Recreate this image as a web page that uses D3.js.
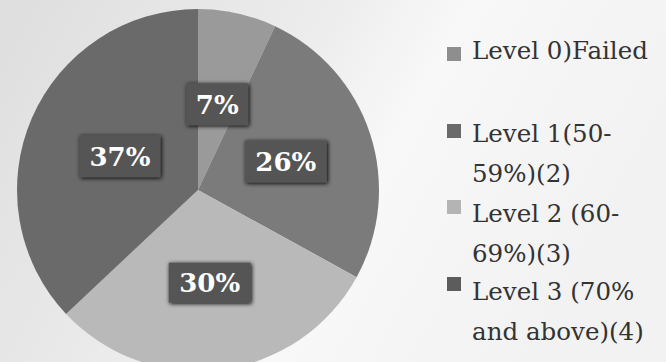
<!DOCTYPE html>
<html><head><meta charset="utf-8">
<script src="https://cdn.jsdelivr.net/npm/d3@7"></script>
<style>html,body{margin:0;padding:0;background:#f4f4f4;}svg{display:block;}</style>
</head><body>
<svg id="c" width="666" height="362"></svg>
<script>
const categories = ["Level 0)Failed", "Level 1(50-59%)(2)", "Level 2 (60-69%)(3)", "Level 3 (70% and above)(4)"];
const values = [7, 26, 30, 37];
const labels = ["7%", "26%", "30%", "37%"];
const legendLines = [["Level 0)Failed"], ["Level 1(50-", "59%)(2)"], ["Level 2 (60-", "69%)(3)"], ["Level 3 (70%", "and above)(4)"]];
const colors = ["#9a9a9a", "#7b7b7b", "#b9b9b9", "#6a6a6a"];
const legendColors = ["#8e8e8e", "#6a6a6a", "#b4b4b4", "#5c5c5c"];

const svg = d3.select("#c");
const defs = svg.append("defs");
const g1 = defs.append("linearGradient").attr("id","bg").attr("x1","0").attr("x2","1").attr("y1","0").attr("y2","0.3");
g1.append("stop").attr("offset","0").attr("stop-color","#dedede");
g1.append("stop").attr("offset","0.45").attr("stop-color","#ececec");
g1.append("stop").attr("offset","0.65").attr("stop-color","#f8f8f8");
g1.append("stop").attr("offset","1").attr("stop-color","#f2f2f2");
svg.append("rect").attr("width",666).attr("height",362).attr("fill","url(#bg)");
const f = defs.append("filter").attr("id","sh").attr("x","-20%").attr("y","-20%").attr("width","140%").attr("height","140%");
f.append("feGaussianBlur").attr("in","SourceAlpha").attr("stdDeviation",2);
f.append("feOffset").attr("dx",1).attr("dy",1).attr("result","b");
const m = f.append("feMerge"); m.append("feMergeNode").attr("in","b"); m.append("feMergeNode").attr("in","SourceGraphic");

const cx = 198, cy = 190, r = 181;
const pie = d3.pie().sort(null).value(d => d)(values);
const arc = d3.arc().innerRadius(0).outerRadius(r);
const g = svg.append("g").attr("transform", `translate(${cx},${cy})`);
g.selectAll("path").data(pie).join("path").attr("d", arc).attr("fill", (d,i) => colors[i]);

// label boxes placed along each slice's mid-angle
const labelFrac = [0.486, 0.51, 0.516, 0.47];
const boxW = [62, 82, 82, 81], boxH = [42, 42, 40, 42];
const lab = g.selectAll("g.lab").data(pie).join("g").attr("class","lab")
  .attr("transform", (d,i) => {
    const a = d3.arc().innerRadius(r*labelFrac[i]).outerRadius(r*labelFrac[i]);
    const c = a.centroid(d);
    return `translate(${c[0]},${c[1]})`;
  });
lab.append("rect").attr("x",(d,i)=>-boxW[i]/2).attr("y",(d,i)=>-boxH[i]/2)
  .attr("width",(d,i)=>boxW[i]).attr("height",(d,i)=>boxH[i]).attr("fill","#555").attr("filter","url(#sh)");
lab.append("text").attr("text-anchor","middle").attr("dy","0.36em")
  .attr("font-family","'DejaVu Serif', serif").attr("font-weight","bold")
  .attr("font-size",26).attr("fill","#fff").text((d,i)=>labels[i]);

// legend
const markY = [54, 131, 207, 284];
const baseY = [59, 142, 222, 300];
const lg = svg.append("g").attr("transform","translate(447,0)");
const fam = "'DejaVu Serif', serif";
const lfs = 24;
// horizontal condensing so the first entry is ~176px wide, as in the reference
const probe = lg.append("text").attr("font-family",fam).attr("font-size",lfs).text(legendLines[0][0]);
const sx = Math.max(0.75, Math.min(1.1, 176 / probe.node().getComputedTextLength()));
probe.remove();
categories.forEach((c, i) => {
  lg.append("rect").attr("x",0).attr("y",markY[i]-7).attr("width",14).attr("height",14).attr("fill",legendColors[i]);
  legendLines[i].forEach((t, j) => {
    lg.append("text").attr("transform",`translate(25,${baseY[i]+j*40}) scale(${sx},1)`)
      .attr("font-family",fam).attr("font-size",lfs).attr("fill","#333").text(t);
  });
});
</script>
</body></html>
